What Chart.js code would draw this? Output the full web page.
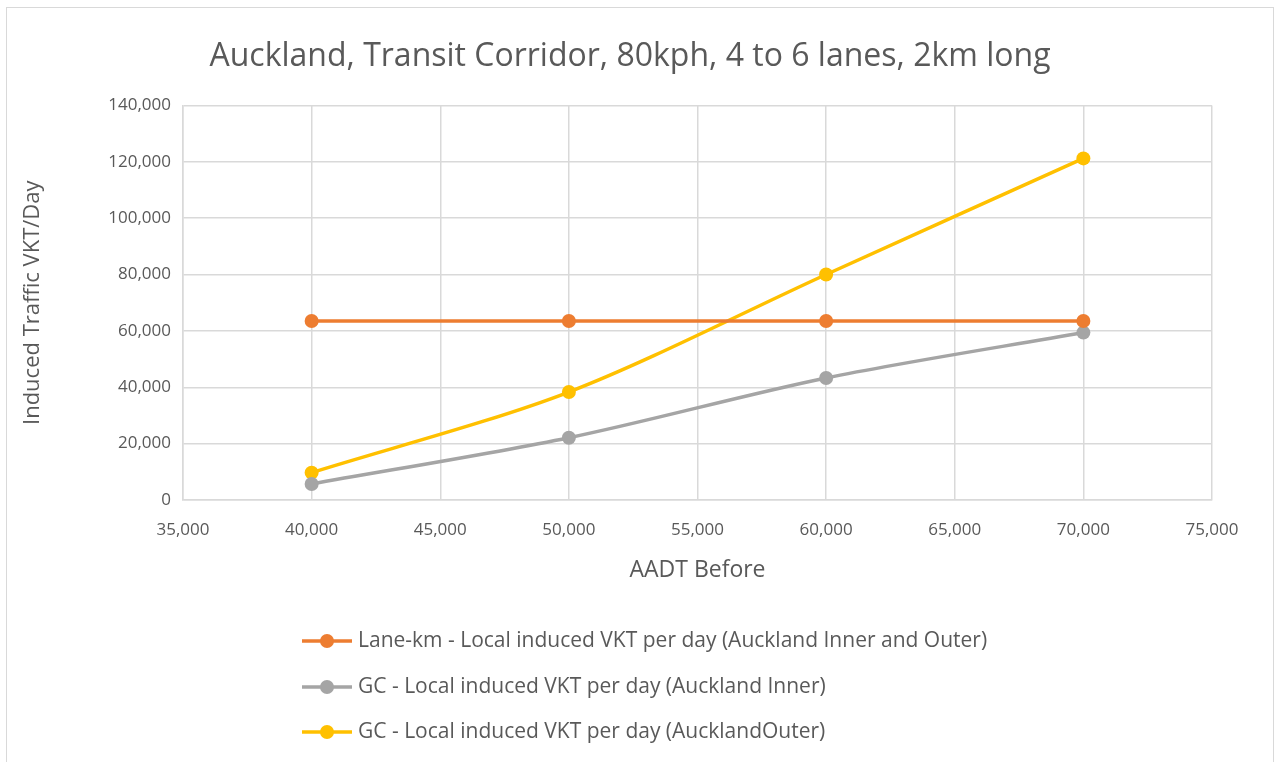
<!DOCTYPE html>
<html>
<head>
<meta charset="utf-8">
<title>Auckland, Transit Corridor</title>
<script src="https://cdn.jsdelivr.net/npm/chart.js@4/dist/chart.umd.min.js"></script>
<style>
  html, body { margin: 0; padding: 0; background: #fff; }
  #wrap { position: relative; width: 1274px; height: 762px; overflow: hidden; }
  #frame { position: absolute; left: 6px; top: 7px; width: 1266px; height: 800px; border: 1px solid #d9d9d9; }
  #chart { position: absolute; left: 0; top: 0; }
</style>
</head>
<body>
<div id="wrap">
  <div id="frame"></div>
  <canvas id="chart" width="1274" height="762"></canvas>
</div>
<script>
// AADT before (x values)
const aadt = [40000, 50000, 60000, 70000];
// induced VKT per day
const laneKm = [63500, 63500, 63500, 63500];
const gcInner = [5700, 22100, 43300, 59400];
const gcOuter = [9700, 38300, 80000, 121200];

const seriesNames = [
  'Lane-km - Local induced VKT per day (Auckland Inner and Outer)',
  'GC - Local induced VKT per day (Auckland Inner)',
  'GC - Local induced VKT per day (AucklandOuter)'
];
const seriesColors = ['#ED7D31', '#A5A5A5', '#FFC000'];

const textColor = '#595959';
const gridColor = '#d9d9d9';
const fontFamily = '"Open Sans", "Liberation Sans", sans-serif';

function toPoints(values) {
  return values.map((v, i) => ({ x: aadt[i], y: v }));
}

const datasets = [laneKm, gcInner, gcOuter].map((values, i) => ({
  label: seriesNames[i],
  data: toPoints(values),
  borderColor: seriesColors[i],
  backgroundColor: seriesColors[i],
  borderWidth: 3.5,
  pointRadius: 7,
  pointHoverRadius: 7,
  pointBorderWidth: 0,
  tension: 0.3,
  fill: false
}));

// centre the title on the whole frame rather than the padded box
const titleShift = {
  id: 'titleShift',
  afterLayout(chart) {
    if (chart.titleBlock) {
      chart.titleBlock.left = 0;
      chart.titleBlock.right = chart.width - 14;
    }
  }
};

// legend listed down the bottom, one per row, left aligned like Excel
const stackedLegend = {
  id: 'stackedLegend',
  afterDraw(chart) {
    const ctx = chart.ctx;
    const area = chart.chartArea;
    const x0 = 302;
    const rowY = [area.bottom + 141, area.bottom + 187, area.bottom + 232];
    ctx.save();
    ctx.font = '21px ' + fontFamily;
    ctx.textBaseline = 'middle';
    ctx.textAlign = 'left';
    chart.data.datasets.forEach((ds, i) => {
      const y = rowY[i];
      ctx.strokeStyle = ds.borderColor;
      ctx.lineWidth = 3.5;
      ctx.beginPath();
      ctx.moveTo(x0, y);
      ctx.lineTo(x0 + 50, y);
      ctx.stroke();
      ctx.fillStyle = ds.backgroundColor;
      ctx.beginPath();
      ctx.arc(x0 + 25, y, 7, 0, Math.PI * 2);
      ctx.fill();
      ctx.fillStyle = textColor;
      ctx.fillText(ds.label, x0 + 56, y);
    });
    ctx.restore();
  }
};

new Chart(document.getElementById('chart'), {
  type: 'line',
  data: { datasets: datasets },
  plugins: [titleShift, stackedLegend],
  options: {
    responsive: false,
    animation: false,
    events: [],
    layout: { padding: { left: 0, right: 62, top: 0, bottom: 172 } },
    plugins: {
      legend: { display: false },
      tooltip: { enabled: false },
      title: {
        display: true,
        text: 'Auckland, Transit Corridor, 80kph, 4 to 6 lanes, 2km long',
        color: textColor,
        font: { family: fontFamily, size: 32, weight: 'normal', lineHeight: 1.2 },
        padding: { top: 38, bottom: 29 }
      }
    },
    scales: {
      x: {
        type: 'linear',
        min: 35000,
        max: 75000,
        afterFit(scale) { scale.height = 90; },
        ticks: {
          stepSize: 5000,
          color: textColor,
          padding: 20,
          font: { family: fontFamily, size: 17 },
          callback: v => v.toLocaleString('en-US')
        },
        grid: { color: gridColor, lineWidth: 1.5, drawTicks: false },
        border: { color: gridColor, width: 1.5 },
        title: {
          display: true,
          text: 'AADT Before',
          color: textColor,
          font: { family: fontFamily, size: 23 },
          padding: { top: 0, bottom: 6 }
        }
      },
      y: {
        min: 0,
        max: 140000,
        afterFit(scale) { scale.width = 183; },
        ticks: {
          stepSize: 20000,
          color: textColor,
          padding: 12,
          font: { family: fontFamily, size: 17 },
          callback: v => v.toLocaleString('en-US')
        },
        grid: { color: gridColor, lineWidth: 1.5, drawTicks: false },
        border: { color: gridColor, width: 1.5 },
        title: {
          display: true,
          text: 'Induced Traffic VKT/Day',
          color: textColor,
          font: { family: fontFamily, size: 22 },
          padding: { top: 20, bottom: 0 }
        }
      }
    }
  }
});
</script>
</body>
</html>
